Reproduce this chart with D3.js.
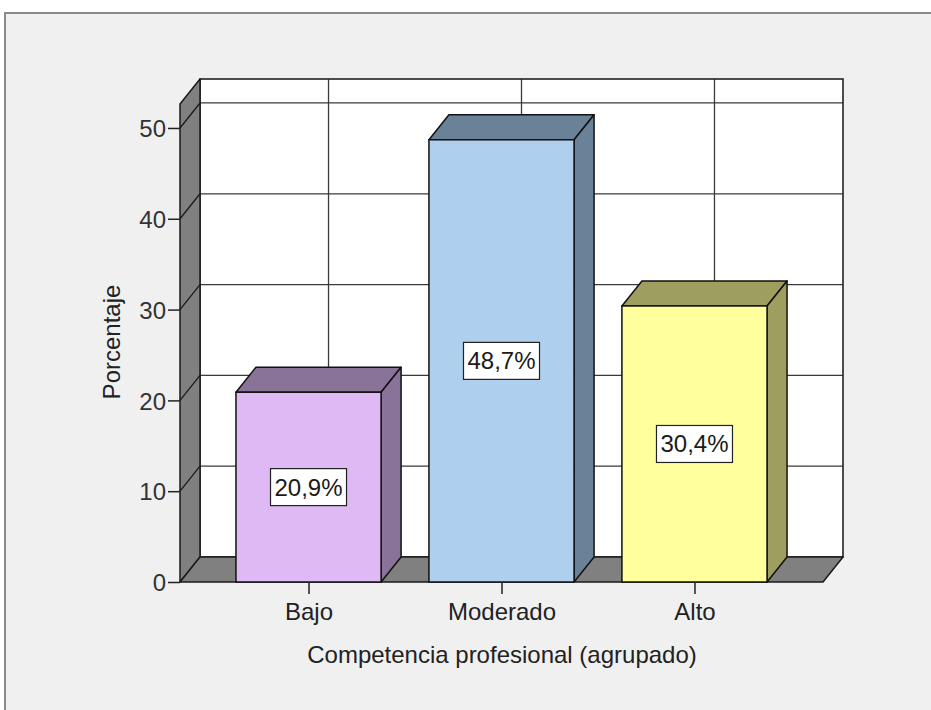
<!DOCTYPE html>
<html>
<head>
<meta charset="utf-8">
<script src="https://cdn.jsdelivr.net/npm/d3@7"></script>
<style>
  html, body { margin: 0; padding: 0; background: #ffffff; }
  svg { display: block; }
  text { font-family: Arial, "Liberation Sans", sans-serif; }
</style>
</head>
<body>
<script>
// Data
const categories = ["Bajo", "Moderado", "Alto"];
const percentages = [20.9, 48.7, 30.4];
const valueLabels = ["20,9%", "48,7%", "30,4%"];
const yTicks = [0, 10, 20, 30, 40, 50];
const yTitle = "Porcentaje";
const xTitle = "Competencia profesional (agrupado)";

// Styles
const frontColors = ["#dfb9f3", "#aecfee", "#ffff9c"];
const shadeColors = ["#8a7399", "#6a8298", "#9e9e5e"];
const wallGray = "#808080";

const W = 931, H = 710;
const svg = d3.select("body").append("svg").attr("width", W).attr("height", H);

// Panel frame
svg.append("rect").attr("x", 5).attr("y", 13).attr("width", 960).attr("height", 740)
  .attr("fill", "#f0f0f0").attr("stroke", "#8a8a8a").attr("stroke-width", 2);

// 3D geometry: depth offset of the back plane
const DX = 20, DY = -25;
const x0 = 180, x1 = 823;         // front floor extent
const y = d3.scaleLinear().domain([0, 52.64]).range([582, 104]);
const x = d3.scalePoint().domain(categories).range([x0, x1]).padding(0.666);
const barW = x.step() * 0.752;

const g = svg.append("g");

// Back wall
g.append("rect")
  .attr("x", x0 + DX).attr("y", y(52.64) + DY)
  .attr("width", x1 - x0).attr("height", y(0) - y(52.64))
  .attr("fill", "#ffffff");

// Back wall gridlines (horizontal)
g.selectAll(".hgrid").data(yTicks.filter(d => d > 0)).join("line")
  .attr("x1", x0 + DX).attr("x2", x1 + DX)
  .attr("y1", d => y(d) + DY).attr("y2", d => y(d) + DY)
  .attr("stroke", "#3a3a3a").attr("stroke-width", 1.3);

// Back wall gridlines (vertical, at category positions)
g.selectAll(".vgrid").data(categories).join("line")
  .attr("x1", d => x(d) + DX).attr("x2", d => x(d) + DX)
  .attr("y1", y(52.64) + DY).attr("y2", y(0) + DY)
  .attr("stroke", "#3a3a3a").attr("stroke-width", 1.3);

// Back wall outline
g.append("rect")
  .attr("x", x0 + DX).attr("y", y(52.64) + DY)
  .attr("width", x1 - x0).attr("height", y(0) - y(52.64))
  .attr("fill", "none").attr("stroke", "#222").attr("stroke-width", 1.6);

// Left side wall
const sideWall = [[x0, y(0)], [x0, y(52.64)], [x0 + DX, y(52.64) + DY], [x0 + DX, y(0) + DY]];
g.append("polygon").attr("points", sideWall.map(p => p.join(",")).join(" "))
  .attr("fill", wallGray).attr("stroke", "#1a1a1a").attr("stroke-width", 1.5)
  .attr("stroke-linejoin", "round");

// Side wall gridlines (diagonals at each tick)
g.selectAll(".sgrid").data(yTicks.filter(d => d > 0)).join("line")
  .attr("x1", x0).attr("x2", x0 + DX)
  .attr("y1", d => y(d)).attr("y2", d => y(d) + DY)
  .attr("stroke", "#1a1a1a").attr("stroke-width", 1.3);

// Floor
const floor = [[x0, y(0)], [x1, y(0)], [x1 + DX, y(0) + DY], [x0 + DX, y(0) + DY]];
g.append("polygon").attr("points", floor.map(p => p.join(",")).join(" "))
  .attr("fill", wallGray).attr("stroke", "#1a1a1a").attr("stroke-width", 1.5)
  .attr("stroke-linejoin", "round");

// Bars
const bars = g.selectAll(".bar").data(categories.map((c, i) => ({
  c, v: percentages[i], label: valueLabels[i], front: frontColors[i], shade: shadeColors[i]
}))).join("g");

bars.append("polygon") // top face
  .attr("points", d => {
    const l = x(d.c) - barW / 2, r = x(d.c) + barW / 2, t = y(d.v);
    return [[l, t], [l + DX, t + DY], [r + DX, t + DY], [r, t]].map(p => p.join(",")).join(" ");
  })
  .attr("fill", d => d.shade).attr("stroke", "#111").attr("stroke-width", 1.5)
  .attr("stroke-linejoin", "round");

bars.append("polygon") // side face
  .attr("points", d => {
    const r = x(d.c) + barW / 2, t = y(d.v), b = y(0);
    return [[r, b], [r, t], [r + DX, t + DY], [r + DX, b + DY]].map(p => p.join(",")).join(" ");
  })
  .attr("fill", d => d.shade).attr("stroke", "#111").attr("stroke-width", 1.5)
  .attr("stroke-linejoin", "round");

bars.append("rect") // front face
  .attr("x", d => x(d.c) - barW / 2).attr("y", d => y(d.v))
  .attr("width", barW).attr("height", d => y(0) - y(d.v))
  .attr("fill", d => d.front).attr("stroke", "#111").attr("stroke-width", 1.5);

// Value labels
const lblW = 76, lblH = 37;
bars.append("rect")
  .attr("x", d => x(d.c) - lblW / 2)
  .attr("y", d => (y(d.v) + y(0)) / 2 - lblH / 2)
  .attr("width", lblW).attr("height", lblH)
  .attr("fill", "#ffffff").attr("stroke", "#222").attr("stroke-width", 1.2);
bars.append("text")
  .attr("x", d => x(d.c))
  .attr("y", d => (y(d.v) + y(0)) / 2 + 8.5)
  .attr("text-anchor", "middle")
  .attr("font-size", 24).attr("fill", "#1a1a1a")
  .text(d => d.label);

// Y axis (on the front-left edge)
const yAxis = d3.axisLeft(y).tickValues(yTicks).tickSize(12).tickPadding(2).tickFormat(d3.format("d"));
const ya = svg.append("g").attr("transform", `translate(${x0},0)`).call(yAxis);
ya.select(".domain").remove();
ya.selectAll("line").attr("stroke", "#222").attr("stroke-width", 1.5);
ya.selectAll("text").attr("font-size", 24).attr("fill", "#333")
  .attr("font-family", "Arial, 'Liberation Sans', sans-serif").attr("dy", "0.36em");

// X axis (on the front floor edge)
const xAxis = d3.axisBottom(x).tickSize(12).tickPadding(9);
const xa = svg.append("g").attr("transform", `translate(0,${y(0)})`).call(xAxis);
xa.select(".domain").remove();
xa.selectAll("line").attr("stroke", "#222").attr("stroke-width", 1.5);
xa.selectAll("text").attr("font-size", 24).attr("fill", "#222")
  .attr("font-family", "Arial, 'Liberation Sans', sans-serif");

// Axis titles
svg.append("text")
  .attr("transform", "translate(120,342) rotate(-90)")
  .attr("text-anchor", "middle").attr("font-size", 24).attr("fill", "#222")
  .text(yTitle);
svg.append("text")
  .attr("x", 502).attr("y", 663)
  .attr("text-anchor", "middle").attr("font-size", 24).attr("fill", "#222")
  .text(xTitle);
</script>
</body>
</html>
